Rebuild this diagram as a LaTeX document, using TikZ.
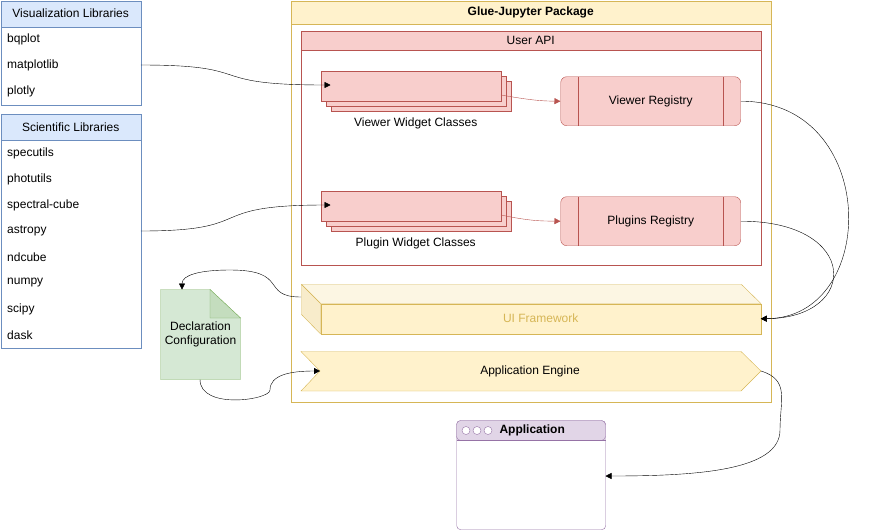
\documentclass[tikz,border=0pt]{standalone}
\usepackage{fontspec}
\setmainfont{Liberation Sans}
\usetikzlibrary{arrows.meta,positioning,calc}
\definecolor{bluef}{HTML}{DAE8FC}\definecolor{blued}{HTML}{6C8EBF}
\definecolor{yelf}{HTML}{FFF2CC}\definecolor{yeld}{HTML}{D6B656}
\definecolor{redf}{HTML}{F8CECC}\definecolor{redd}{HTML}{B85450}
\definecolor{grnf}{HTML}{D5E8D4}\definecolor{grnd}{HTML}{82B366}
\definecolor{purf}{HTML}{E1D5E7}\definecolor{purd}{HTML}{9673A6}
\tikzstyle{box}=[draw, rectangle, inner sep=0pt, anchor=north west]
\tikzstyle{item}=[anchor=west, inner sep=0pt]
\tikzstyle{arrow}=[-{Triangle[length=6pt,width=6pt]}]
\tikzstyle{redarrow}=[-{Triangle[length=6pt,width=6pt]}, redd]
\begin{document}
\begin{tikzpicture}[x=1pt,y=-1pt,font=\fontsize{12}{14}\selectfont]
    \useasboundingbox (0,0) rectangle (871,531);
    % library lists
    \node (vis) [box,blued,fill=white,minimum width=140,minimum height=104] at (0.5,0.5) {};
    \node (visH) [box,blued,fill=bluef,minimum width=140,minimum height=26,text=black] at (0.5,0.5) {Visualization Libraries};
    \node (bqplot) [item] at (7,39) {bqplot};
    \node (matplotlib) [item] at (7,65) {matplotlib};
    \node (plotly) [item] at (7,91) {plotly};
    \node (sci) [box,blued,fill=white,minimum width=140,minimum height=234] at (0.5,114) {};
    \node (sciH) [box,blued,fill=bluef,minimum width=140,minimum height=26,text=black] at (0.5,114) {Scientific Libraries};
    \foreach \lib [count=\i] in {specutils,photutils,spectral-cube,astropy,ndcube,numpy,scipy,dask}
        \node (\lib) [item] at (7,127+26*\i) {\lib};
    % package
    \node (pkg) [box,yeld,minimum width=480,minimum height=401] at (290.5,0.5) {};
    \node (pkgH) [box,yeld,fill=yelf,minimum width=480,minimum height=23,text=black,font=\fontsize{12}{14}\selectfont\bfseries] at (290.5,0.5) {Glue-Jupyter Package};
    \node (api) [box,redd,minimum width=460,minimum height=234] at (300.5,31) {};
    \node (apiH) [box,redd,fill=redf,minimum width=460,minimum height=19,text=black] at (300.5,31) {User API};
    % widget stacks
    \foreach \y/\n in {70/viewer,190/plugin}{
        \foreach \d in {10,5,0}
            \node (\n\d) [box,redd,fill=redf,minimum width=180,minimum height=30] at (320.5+\d,\y.5+\d) {};
    }
    \node (viewerL) [below=8pt of viewer5] {Viewer Widget Classes};
    \node (pluginL) [below=8pt of plugin5] {Plugin Widget Classes};
    \node (vreg) [box,redd,fill=redf,rounded corners=6pt,minimum width=180,minimum height=49] at (560.5,76.5) {};
    \node at (vreg) {Viewer Registry};
    \node (preg) [box,redd,fill=redf,rounded corners=6pt,minimum width=180,minimum height=49] at (560.5,196.5) {};
    \node at (preg) {Plugins Registry};
    \foreach \r in {vreg,preg}{
        \draw[redd] ($(\r.north west)+(18,0)$) -- ($(\r.south west)+(18,0)$);
        \draw[redd] ($(\r.north east)+(-18,0)$) -- ($(\r.south east)+(-18,0)$);
    }
    % UI framework cube
    \node (ui) [box,yeld,fill=yelf,minimum width=440,minimum height=30] at (320.5,303.5) {UI Framework};
    \fill[yelf!85!yeld!40,draw=yeld] (ui.north west) -- ++(-19,-19) -- ++(440,0) -- (ui.north east) -- cycle;
    \fill[yelf!70!yeld!60,draw=yeld] (ui.north west) -- ++(-19,-19) -- ++(0,30) -- (ui.south west) -- cycle;
    \coordinate (uiBack) at (301,297);
    % application engine
    \node (engine) [anchor=center] at (530,371) {Application Engine};
    \draw[yeld,fill=yelf] (301,351.5) -- (741,351.5) -- (761,371) -- (741,391) -- (301,391) -- (320,371) -- cycle;
    \node at (530,371) {Application Engine};
    \coordinate (engL) at (320,371);
    \coordinate (engR) at (761,371);
    % declaration note
    \draw[grnd,fill=grnf] (160.5,289.5) -- (210,289.5) -- (240.5,318) -- (240.5,379.5) -- (160.5,379.5) -- cycle;
    \draw[grnd,fill=grnf!80!grnd] (210,289.5) -- (210,318) -- (240.5,318) -- cycle;
    \node (decl) [align=center,inner sep=0pt] at (200.5,334) {Declaration\\Configuration};
    \coordinate (declT) at (182,289.5);
    \coordinate (declB) at (200,379.5);
    % application window
    \node (app) [box,purd,rounded corners=4pt,minimum width=149,minimum height=109] at (456.5,420.5) {};
    \fill[purf,draw=purd,rounded corners=4pt] (456.5,440.5) -- (456.5,420.5) -- (605.5,420.5) -- (605.5,440.5) -- cycle;
    \draw[purd] (app.north west) ++(0,20) -- ++(149,0);
    \foreach \cx in {466,477,488}
        \draw[purd,fill=white] (\cx,430.5) circle (4);
    \node (appT) [anchor=west,font=\fontsize{12}{14}\selectfont\bfseries] at (496,430.5) {Application};
    \coordinate (appR) at (605.5,476);
    % connectors
    \draw[arrow] (matplotlib.east -| vis.east) .. controls (260,65) and (200,85) .. (viewer10.west |- 0,85);
    \draw[arrow] (astropy.east -| sci.east) .. controls (260,231) and (200,205) .. (plugin10.west |- 0,205);
    \draw[redarrow] (viewer0.east |- 0,95) .. controls (530,100) and (540,101) .. (vreg.west);
    \draw[redarrow] (plugin0.east |- 0,215) .. controls (530,221) and (540,221) .. (preg.west);
    \draw[arrow] (vreg.east) .. controls (880,101) and (880,318) .. (ui.east);
    \draw[arrow] (preg.east) .. controls (860,221) and (860,318) .. (ui.east);
    \draw[arrow] (uiBack) .. controls (260,297) and (290,270) .. (230,270) .. controls (200,270) and (182,275) .. (declT);
    \draw[arrow] (declB) .. controls (200,410) and (270,400) .. (270,390) .. controls (270,375) and (290,371) .. (engL);
    \draw[arrow] (engR) .. controls (790,380) and (780,400) .. (780,430) .. controls (780,470) and (700,476) .. (appR);
\end{tikzpicture}
\end{document}
